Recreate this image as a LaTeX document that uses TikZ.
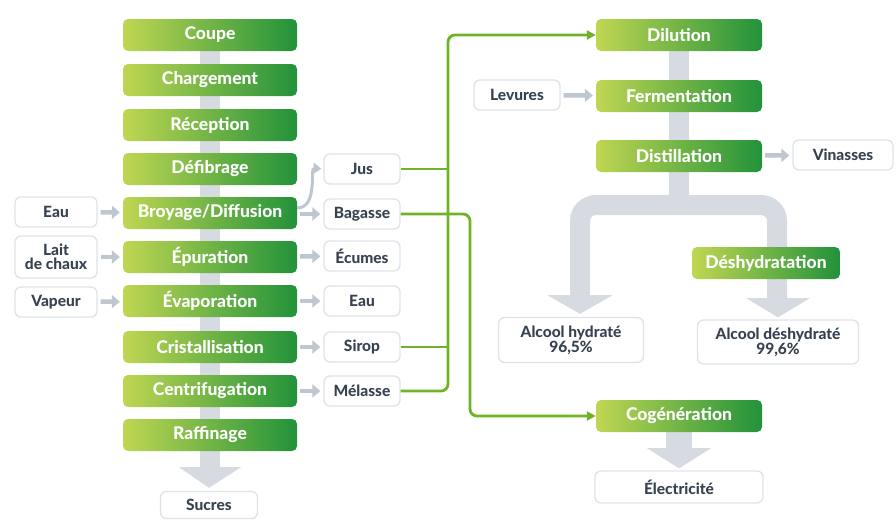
\documentclass[tikz,border=0pt]{standalone}
\usepackage{fontspec}
\setmainfont{Lato}[BoldFont={Lato Heavy}]
\usetikzlibrary{arrows.meta,calc,backgrounds}
\definecolor{gL}{RGB}{192,214,82}
\definecolor{gM}{RGB}{100,176,50}
\definecolor{gR}{RGB}{34,146,58}
\definecolor{txt}{RGB}{55,66,80}
\definecolor{bord}{RGB}{222,226,232}
\definecolor{barc}{RGB}{214,219,226}
\definecolor{arrc}{RGB}{190,198,208}
\definecolor{gline}{RGB}{110,180,38}
\tikzset{
  gbox/.style={rounded corners=5pt, minimum height=32pt, inner sep=0pt,
    left color=gL, middle color=gM, right color=gR, text=white,
    font=\bfseries\fontsize{17.5}{19}\selectfont},
  wbox/.style={rounded corners=6pt, draw=bord, line width=1.3pt, fill=white,
    minimum height=30pt, inner sep=0pt, text=txt, align=center,
    font=\bfseries\fontsize{15.5}{15.5}\selectfont},
  sarrow/.style={arrc, line width=4.5pt, -{Triangle[width=13pt,length=8pt]}, shorten <=3pt, shorten >=3pt},
  gconn/.style={gline, line width=2.8pt, rounded corners=7pt},
  gtip/.style={-{Triangle[width=9pt,length=9pt]}},
}
\begin{document}
\begin{tikzpicture}[x=1pt,y=-1pt]
\useasboundingbox (0,0) rectangle (896,522);
% left column
\node[gbox, minimum width=174pt] (coupe) at (210,35) {Coupe};
\node[gbox, minimum width=174pt] (charg) at (210,80) {Chargement};
\node[gbox, minimum width=174pt] (recep) at (210,125) {Réception};
\node[gbox, minimum width=174pt] (defib) at (210,169) {Défibrage};
\node[gbox, minimum width=174pt] (broy) at (210,213) {Broyage/Diffusion};
\node[gbox, minimum width=174pt] (epur) at (210,257) {Épuration};
\node[gbox, minimum width=174pt] (evap) at (210,301) {Évaporation};
\node[gbox, minimum width=174pt] (crist) at (210,347) {Cristallisation};
\node[gbox, minimum width=174pt] (centr) at (210,391) {Centrifugation};
\node[gbox, minimum width=174pt] (raff) at (210,435) {Raffinage};
\node[wbox, minimum width=97pt, minimum height=27pt] (sucres) at (209,505) {Sucres};
% left inputs
\node[wbox, minimum width=82pt] (eauin) at (56,212) {Eau};
\node[wbox, minimum width=82pt, minimum height=42pt, font=\bfseries\fontsize{15.5}{14}\selectfont] (lait) at (56,257) {Lait\\de chaux};
\node[wbox, minimum width=82pt] (vap) at (56,302) {Vapeur};
% right outputs
\node[wbox, minimum width=76pt] (jus) at (362,169) {Jus};
\node[wbox, minimum width=76pt] (bag) at (362,214) {Bagasse};
\node[wbox, minimum width=76pt] (ecu) at (362,256) {Écumes};
\node[wbox, minimum width=76pt] (eauout) at (362,301) {Eau};
\node[wbox, minimum width=76pt] (sirop) at (362,347) {Sirop};
\node[wbox, minimum width=76pt] (mel) at (362,391) {Mélasse};
% right column
\node[gbox, minimum width=166pt] (dil) at (679,35) {Dilution};
\node[gbox, minimum width=166pt] (ferm) at (679,96) {Fermentation};
\node[gbox, minimum width=166pt] (dist) at (679,156) {Distillation};
\node[wbox, minimum width=86pt] (lev) at (517,95) {Levures};
\node[wbox, minimum width=100pt] (vin) at (843,155) {Vinasses};
\node[wbox, minimum width=145pt, minimum height=45pt, font=\bfseries\fontsize{15.5}{15}\selectfont] (ahyd) at (571,340) {Alcool hydraté\\96,5\%};
\node[wbox, minimum width=161pt, minimum height=44pt, font=\bfseries\fontsize{15.5}{15}\selectfont] (adeshyd) at (778,342) {Alcool déshydraté\\99,6\%};
\node[gbox, minimum width=148pt] (deshyd) at (766,263) {Déshydratation};
\node[gbox, minimum width=166pt] (cogen) at (679,416) {Cogénération};
\node[wbox, minimum width=168pt, minimum height=32pt] (elec) at (679,487) {Électricité};
% background bars
\begin{scope}[on background layer]
  \fill[barc] ($(coupe.center)+(-10,0)$) rectangle ($(raff.south)+(10,16)$);
  \fill[barc] ($(raff.south)+(-31,16)$) -- ($(raff.south)+(31,16)$) -- ($(sucres.north)+(0,-3)$) -- cycle;
  \fill[barc] ($(dil.center)+(-10,0)$) rectangle ($(dist.south)+(10,40)$);
  \draw[barc, line width=20pt, rounded corners=16pt] (580,296) -- (580,205) -- (777,205) -- (777,299);
  \fill[barc] (547,295) -- (613,295) -- ($(ahyd.north)+(9,-3)$) -- cycle;
  \fill[barc] (746,298) -- (810,298) -- ($(adeshyd.north)+(0,-2)$) -- cycle;
  \fill[barc] ($(cogen.south)+(-13,0)$) rectangle ($(cogen.south)+(13,17)$);
  \fill[barc] ($(cogen.south)+(-32,16)$) -- ($(cogen.south)+(32,16)$) -- ($(elec.north)+(0,-2)$) -- cycle;
\end{scope}
% small grey arrows
\draw[sarrow] (eauin) -- (broy);
\draw[sarrow] (lait) -- (epur);
\draw[sarrow] (vap) -- (evap);
\draw[sarrow] (broy.east |- bag) -- (bag);
\draw[sarrow] (epur) -- (ecu);
\draw[sarrow] (evap) -- (eauout);
\draw[sarrow] (crist) -- (sirop);
\draw[sarrow] (centr) -- (mel);
\draw[sarrow] (lev) -- (ferm);
\draw[sarrow] (dist) -- (vin);
\draw[arrc, line width=3pt, -{Triangle[width=11pt,length=8pt]}, shorten >=2pt]
  ($(broy.east)+(0,-5)$) .. controls (318,208) and (310,168) .. (jus.west);
% green connectors
\coordinate (v1) at (448,0);
\coordinate (v2) at (470,0);
\draw[gconn, gtip] (mel.east) -- (mel.east -| v1) -- (v1 |- dil) -- (dil.west);
\draw[gconn] (jus.east) -- (jus.east -| v1);
\draw[gconn] (sirop.east) -- (sirop.east -| v1);
\draw[gconn, gtip] (bag.east) -- (bag.east -| v2) -- (v2 |- cogen) -- (cogen.west);
\end{tikzpicture}
\end{document}
